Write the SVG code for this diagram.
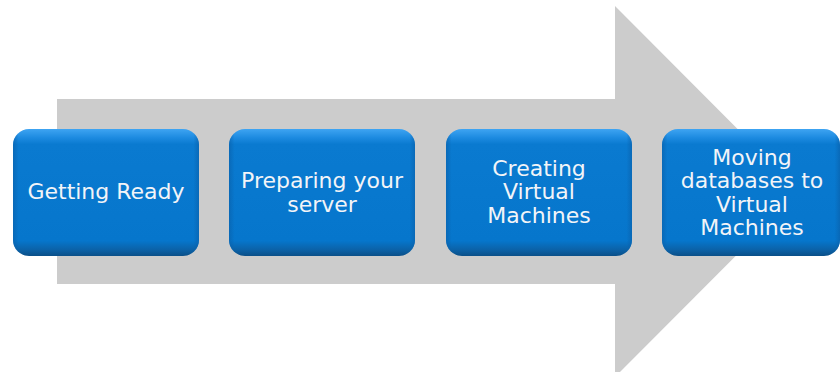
<svg xmlns="http://www.w3.org/2000/svg" width="840" height="372" viewBox="0 0 840 372">
<defs>
<linearGradient id="bg" x1="0" y1="0" x2="0" y2="1">
<stop offset="0" stop-color="#3ea4f2"/>
<stop offset="0.07" stop-color="#1c8ae0"/>
<stop offset="0.12" stop-color="#0a7ad0"/>
<stop offset="0.88" stop-color="#0676cc"/>
<stop offset="0.95" stop-color="#0b62a8"/>
<stop offset="1" stop-color="#0a4f88"/>
</linearGradient>
<linearGradient id="side" x1="0" y1="0" x2="1" y2="0">
<stop offset="0" stop-color="#0a5fa8" stop-opacity="0.6"/>
<stop offset="0.03" stop-color="#0a5fa8" stop-opacity="0"/>
<stop offset="0.97" stop-color="#0a5fa8" stop-opacity="0"/>
<stop offset="1" stop-color="#0a5fa8" stop-opacity="0.6"/>
</linearGradient>
<style>
.box{fill:url(#bg);}
.edge{fill:url(#side);}
.t{font-family:"DejaVu Sans",Verdana,sans-serif;font-size:22px;fill:#f2f4f8;text-anchor:middle;}
</style>
</defs>
<g id="arrow">
<polygon points="57,99 615,99 615,6 800,191.5 615,377 615,284 57,284" fill="#cccccc"/>
</g>
<g id="node1">
<rect class="box" x="13" y="129" width="186" height="127" rx="16"/>
<rect class="edge" x="13" y="129" width="186" height="127" rx="16"/>
<text class="t" x="106" y="199">Getting Ready</text>
</g>
<g id="node2">
<rect class="box" x="229" y="129" width="186" height="127" rx="16"/>
<rect class="edge" x="229" y="129" width="186" height="127" rx="16"/>
<text class="t" x="322" y="188">Preparing your</text>
<text class="t" x="322" y="212">server</text>
</g>
<g id="node3">
<rect class="box" x="446" y="129" width="186" height="127" rx="16"/>
<rect class="edge" x="446" y="129" width="186" height="127" rx="16"/>
<text class="t" x="539" y="176">Creating</text>
<text class="t" x="539" y="199">Virtual</text>
<text class="t" x="539" y="223">Machines</text>
</g>
<g id="node4">
<rect class="box" x="662" y="129" width="178" height="127" rx="16"/>
<rect class="edge" x="662" y="129" width="178" height="127" rx="16"/>
<text class="t" x="752" y="165">Moving</text>
<text class="t" x="752" y="188">databases to</text>
<text class="t" x="752" y="212">Virtual</text>
<text class="t" x="752" y="235">Machines</text>
</g>
<g id="connectors"/>
</svg>
